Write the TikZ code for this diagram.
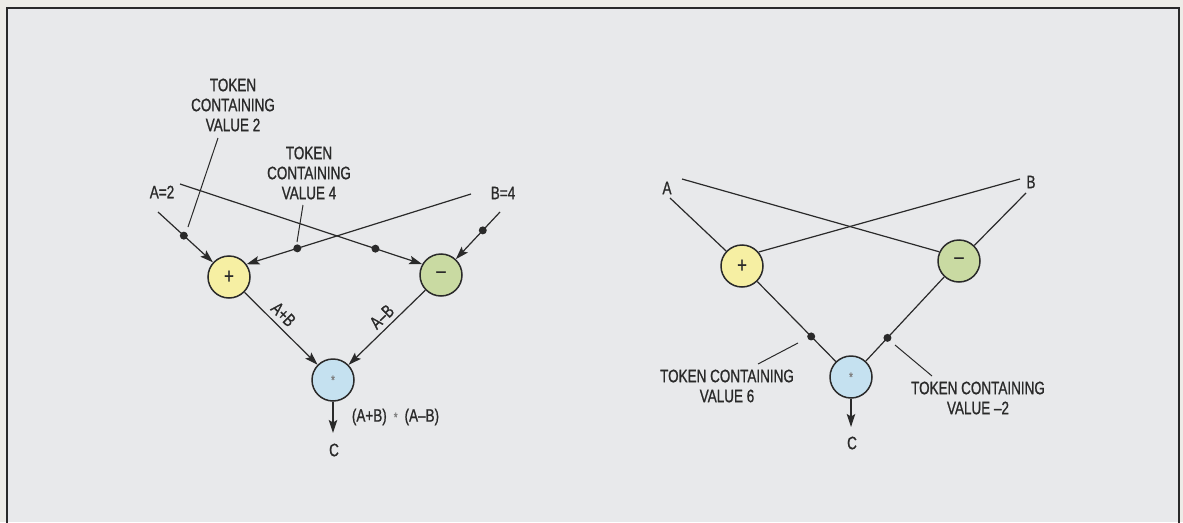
\documentclass[tikz,border=0pt]{standalone}
\usepackage{fontspec}
\newfontfamily\condfont[FakeStretch=0.75,FakeBold=0.9]{Liberation Sans}
\usetikzlibrary{arrows.meta}
\definecolor{yel}{HTML}{F6EFA3}
\definecolor{grn}{HTML}{C9DAA2}
\definecolor{blu}{HTML}{C5E1F0}
\definecolor{inbg}{HTML}{E8E9EB}
\definecolor{outbg}{HTML}{EDECE7}
\definecolor{ink}{HTML}{2A2A2A}
\newcommand{\circstar}{{\fontsize{13}{13}\selectfont\color{black!50}\raisebox{-4.5pt}{*}}}
\newcommand{\labstar}{{\fontsize{13}{13}\selectfont\color{black!50}*}}
\begin{document}
\begin{tikzpicture}[x=1pt,y=-1pt,
  lbl/.style={font=\condfont\fontsize{18}{20}\selectfont, align=center, inner sep=0pt, text=ink},
  opnode/.style={circle, draw=ink, line width=1.5pt, minimum size=42pt, inner sep=0pt, text=ink, font=\condfont\fontsize{22}{22}\selectfont},
  conn/.style={line width=1.2pt, draw=ink},
  arr/.style={conn, -{Stealth[length=13pt,width=8.5pt,inset=2.5pt]}},
  tokdot/.style={circle, fill=ink, inner sep=0pt, minimum size=8pt},
  leader/.style={line width=1pt, draw=ink}]
\useasboundingbox (0,0) rectangle (1183,522);
\fill[outbg] (0,0) rectangle (1183,522);
\fill[inbg] (7,8) rectangle (1179,522);
\draw[line width=2pt, ink] (7,523) -- (7,8) -- (1179,8) -- (1179,523);

% ---------- left diagram ----------
\node[opnode, fill=yel] (p1) at (229,277) {+};
\node[opnode, fill=grn] (m1) at (441,275) {\raisebox{1pt}{–}};
\node[opnode, fill=blu] (s1) at (333,380) {\circstar};
\node[lbl] (a1) at (162,192) {A=2};
\node[lbl] (b1) at (503,193) {B=4};
\coordinate (a1s) at (158,212);
\coordinate (a1t) at (180,184);
\coordinate (b1t) at (471,194);
\coordinate (b1s) at (500,212);
\draw[arr] (a1s) -- node[tokdot, pos=0.47] (d1) {} (p1);
\draw[arr] (a1t) -- node[tokdot, pos=0.807] (d3) {} (m1.150);
\draw[arr] (b1t) -- node[tokdot, pos=0.774] (d2) {} (p1.36);
\draw[arr] (b1s) -- node[tokdot, pos=0.39] (d4) {} (m1);
\draw[arr] (p1) -- node[lbl, sloped, above=5pt, pos=0.42] (lab1) {A+B} (s1);
\draw[arr] (m1) -- node[lbl, sloped, above=4.5pt, pos=0.465] (lab2) {A–B} (s1);
\coordinate (c1t) at (333,433);
\draw[arr] (s1) -- (c1t);
\node[lbl] (c1) at (334,450) {C};
\node[lbl] (ab1) at (395.5,417) {(A+B)\hspace{7pt}\labstar\hspace{7pt}(A–B)};
\node[lbl] (t1) at (233,105) {TOKEN\\CONTAINING\\VALUE 2};
\node[lbl] (t2) at (309,173) {TOKEN\\CONTAINING\\VALUE 4};
\coordinate (l1a) at (218,138);
\coordinate (l1b) at (188,227);
\coordinate (l2a) at (303,205);
\coordinate (l2b) at (297,242);
\draw[leader] (l1a) -- (l1b);
\draw[leader] (l2a) -- (l2b);

% ---------- right diagram ----------
\node[opnode, fill=yel] (p2) at (742,266) {+};
\node[opnode, fill=grn] (m2) at (959,261) {\raisebox{1pt}{–}};
\node[opnode, fill=blu] (s2) at (851,377) {\circstar};
\node[lbl] (a2) at (667,188) {A};
\node[lbl] (b2) at (1031,182) {B};
\coordinate (a2s) at (670,198);
\coordinate (a2t) at (682,179);
\coordinate (b2t) at (1020,179);
\coordinate (b2s) at (1026,193);
\draw[conn] (a2s) -- (p2);
\draw[conn] (a2t) -- (m2.155);
\draw[conn] (b2t) -- (p2.40);
\draw[conn] (b2s) -- (m2);
\draw[conn] (p2) -- node[tokdot, pos=0.687] (d5) {} (s2);
\draw[conn] (m2) -- node[tokdot, pos=0.724] (d6) {} (s2);
\coordinate (c2t) at (851,427);
\draw[arr] (s2) -- (c2t);
\node[lbl] (c2) at (852,443) {C};
\node[lbl] (t3) at (727,386) {TOKEN CONTAINING\\VALUE 6};
\node[lbl] (t4) at (978,398) {TOKEN CONTAINING\\VALUE –2};
\coordinate (l3a) at (798,343);
\coordinate (l3b) at (758,364);
\coordinate (l4a) at (895,345);
\coordinate (l4b) at (932,376);
\draw[leader] (l3a) -- (l3b);
\draw[leader] (l4a) -- (l4b);
\end{tikzpicture}
\end{document}
